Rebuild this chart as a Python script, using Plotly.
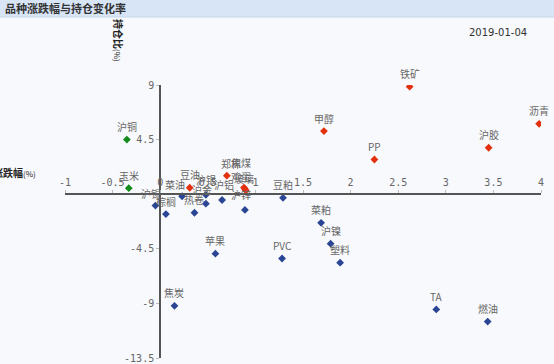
import plotly.graph_objects as go

# ---- data ----
green_names = ["沪铜", "玉米"]
green_x = [-0.35, -0.33]
green_y = [4.5, 0.5]

red_names = ["铁矿", "甲醇", "PP", "沪胶", "沥青", "郑棉", "豆油", "焦煤", "鸡蛋", "玻璃"]
red_x = [2.62, 1.72, 2.25, 3.45, 3.98, 0.70, 0.31, 0.88, 0.89, 0.90]
red_y = [8.86, 5.2, 2.86, 3.83, 5.8, 1.53, 0.53, 0.55, 0.42, 0.3]

blue_names = ["菜油", "沪银", "沪金", "热卷", "棕榈", "沪锡", "沪铝", "沪锌", "豆粕",
              "菜粕", "沪镍", "塑料", "PVC", "苹果", "焦炭", "TA", "燃油"]
blue_x = [0.23, 0.48, 0.48, 0.36, 0.06, -0.05, 0.65, 0.89, 1.29,
          1.69, 1.79, 1.89, 1.28, 0.58, 0.15, 2.9, 3.44]
blue_y = [-0.17, -0.05, -0.78, -1.53, -1.64, -0.94, -0.48, -1.3, -0.3,
          -2.36, -4.08, -5.64, -5.3, -4.9, -9.2, -9.5, -10.5]

x_ticks = [-1, -0.5, 0, 0.5, 1, 1.5, 2, 2.5, 3, 3.5, 4]
y_ticks = [9, 4.5, -4.5, -9, -13.5]

# label shift overrides (pixels) for crowded labels
label_shift = {"焦煤": (-3, 25), "鸡蛋": (-4, 13), "玻璃": (-2, 12), "沪银": (0, 15),
               "沪铝": (2, 16), "沪锌": (-4, 15), "菜油": (-7, 12), "沪金": (-4, 14),
               "沪锡": (-4, 12), "郑棉": (4, 12)}

W, H = 554, 364
L, R, T, B = 65, 13, 85, 6
pw, ph = W - L - R, H - T - B


def px2x(px):
    return (px - L) / pw


def px2y(py):
    return (H - B - py) / ph


fig = go.Figure()
series = [(green_names, green_x, green_y, "#138a1c"),
          (red_names, red_x, red_y, "#e3300f"),
          (blue_names, blue_x, blue_y, "#2a4594")]
annotations = []
for names, xs, ys, col in series:
    fig.add_trace(go.Scatter(x=xs, y=ys, mode="markers", text=names,
                             marker=dict(symbol="diamond", size=6, color=col),
                             showlegend=False))
    for n, xv, yv in zip(names, xs, ys):
        dx, dy = label_shift.get(n, (0, 13))
        annotations.append(dict(x=xv, y=yv, text=n, showarrow=False, xshift=dx, yshift=dy,
                                font=dict(size=10, color="#666",
                                          family="Noto Sans CJK SC")))

# header/title
annotations += [
    dict(xref="paper", yref="paper", x=px2x(3), y=px2y(8), xanchor="left", yanchor="middle",
         text="<b>品种涨跌幅与持仓变化率</b>", showarrow=False,
         font=dict(size=11, color="#333", family="Noto Sans CJK SC")),
    dict(xref="paper", yref="paper", x=px2x(498), y=px2y(32), xanchor="center", yanchor="middle",
         text="2019-01-04", showarrow=False,
         font=dict(size=10, color="#333", family="DejaVu Sans")),
    dict(xref="paper", yref="paper", x=px2x(38), y=px2y(172), xanchor="right", yanchor="middle",
         text="<b>涨跌幅</b><span style='font-size:8px'>(%)</span>", showarrow=False,
         font=dict(size=10, color="#222", family="Noto Sans CJK SC")),
    dict(xref="paper", yref="paper", x=px2x(118), y=px2y(40), xanchor="center", yanchor="middle",
         text="<b>持仓比</b><span style='font-size:8px'>(%)</span>", showarrow=False, textangle=90,
         font=dict(size=10, color="#222", family="Noto Sans CJK SC")),
]

shapes = [
    dict(type="rect", xref="paper", yref="paper", x0=px2x(0), x1=px2x(W), y0=px2y(17), y1=px2y(0),
         fillcolor="#d7e5f7", line=dict(width=0), layer="below"),
    dict(type="line", xref="paper", yref="paper", x0=px2x(0), x1=px2x(W), y0=px2y(17), y1=px2y(17),
         line=dict(color="#c4d4ea", width=1)),
]

fig.update_layout(
    width=W, height=H,
    margin=dict(l=L, r=R, t=T, b=B, autoexpand=False),
    paper_bgcolor="#f8f9fc", plot_bgcolor="#f8f9fc",
    annotations=annotations, shapes=shapes,
    font=dict(family="Noto Sans CJK SC", size=10, color="#666"),
    xaxis=dict(range=[-1, 4], anchor="free", position=13.5 / 22.5, side="top",
               automargin=False,
               tickvals=x_ticks, ticktext=[str(v) for v in x_ticks],
               showgrid=False, zeroline=False, showline=True, linecolor="#555", linewidth=2,
               ticks="outside", ticklen=3, tickcolor="#bbb",
               tickfont=dict(size=10, color="#666", family="DejaVu Sans Mono")),
    yaxis=dict(range=[-13.5, 9], anchor="free", position=0.2,
               automargin=False,
               tickvals=y_ticks, ticktext=[str(v) for v in y_ticks],
               showgrid=False, zeroline=False, showline=True, linecolor="#555", linewidth=2,
               ticks="outside", ticklen=3, tickcolor="#bbb",
               tickfont=dict(size=10, color="#666", family="DejaVu Sans Mono")),
)

fig.write_html("out.html",
               config={"displayModeBar": False},
               post_script="document.body.style.margin='0';"
                           "document.body.style.background='#f8f9fc';")
